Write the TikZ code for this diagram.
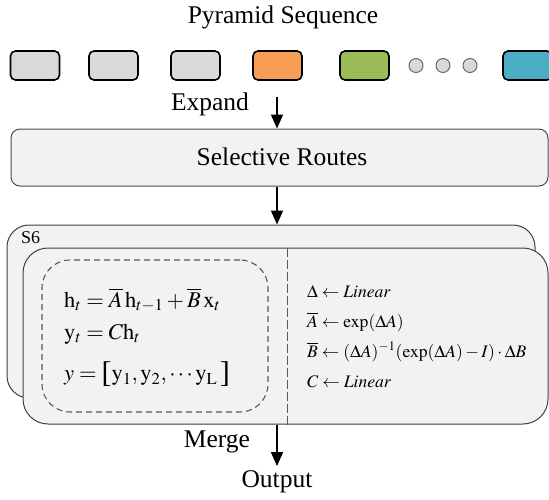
\documentclass[tikz,border=0pt]{standalone}
\usepackage{mathptmx}
\usepackage[no-math]{fontspec}
\setmainfont{Liberation Serif}
\usetikzlibrary{arrows.meta}
\definecolor{seqgray}{HTML}{D9D9D9}
\definecolor{seqorange}{HTML}{F79D55}
\definecolor{seqgreen}{HTML}{9BBB59}
\definecolor{seqblue}{HTML}{4BACC6}
\definecolor{panel}{HTML}{F2F2F2}
\newcommand{\bigbrk}[1]{\mbox{\fontsize{30}{30}\selectfont\raisebox{-1.5pt}{#1}}}
\begin{document}
\begin{tikzpicture}[x=1pt,y=-1pt,
  seqbox/.style={draw=black, line width=1.6pt, rounded corners=5pt, minimum width=49pt, minimum height=29pt, inner sep=0pt},
  dotnode/.style={circle, draw=gray!75!black, fill=seqgray, line width=0.9pt, minimum size=14pt, inner sep=0pt},
  flow/.style={-{Triangle[length=14pt,width=12pt]}, line width=1.5pt},
  lbl/.style={font=\fontsize{25.5}{30}\selectfont, inner sep=0pt},
  panelbox/.style={draw=black!75, fill=panel, line width=1pt, inner sep=0pt},
  eqL/.style={anchor=west, inner sep=0pt, font=\fontsize{22.5}{27}\selectfont},
  eqR/.style={anchor=west, inner sep=0pt, font=\fontsize{17.6}{21}\selectfont}]
\useasboundingbox (0,0) rectangle (549,499);

% title and sequence
\node[lbl] (title) at (283,17) {Pyramid Sequence};
\node[seqbox, fill=seqgray] (b1) at (35,65.5) {};
\node[seqbox, fill=seqgray] (b2) at (113.5,65.5) {};
\node[seqbox, fill=seqgray] (b3) at (195.5,65.5) {};
\node[seqbox, fill=seqorange] (b4) at (277.5,65.5) {};
\node[seqbox, fill=seqgreen] (b5) at (364.5,65.5) {};
\node[dotnode] (d1) at (416,65.5) {};
\node[dotnode] (d2) at (443,65.5) {};
\node[dotnode] (d3) at (470,65.5) {};
\node[seqbox, fill=seqblue] (b6) at (527.5,65.5) {};

% expand
\node[lbl] (expand) at (210,104) {Expand};
\coordinate (expstart) at (277,97);
\node[panelbox, draw=black!70, rounded corners=9pt, minimum width=537pt, minimum height=57pt] (sel) at (279.5,157.5) {};
\node[lbl] (seltext) at (282,157) {Selective Routes};
\draw[flow] (expstart) -- (sel.north -| expstart);

% S6 panels
\node[panelbox, rounded corners=22pt, minimum width=528pt, minimum height=173pt] (back) at (271,311.5) {};
\node[anchor=base west, inner sep=0pt, font=\fontsize{18}{20}\selectfont] (s6) at (21,243) {S6};
\node[panelbox, rounded corners=25pt, minimum width=525pt, minimum height=176pt] (front) at (285.5,336) {};
\draw[flow] (sel.south -| expstart) -- (back.north -| expstart);

\coordinate (sepx) at (287,0);
\draw[gray!70!black, line width=1pt, dash pattern=on 9pt off 3pt] (front.north -| sepx) -- (front.south -| sepx);
\node[draw=black!65, dash pattern=on 6pt off 4pt, line width=1.1pt, rounded corners=28pt, minimum width=226pt, minimum height=152pt, inner sep=0pt] (inner) at (155,336) {};

\node[eqL] (e1) at (64,300) {$\mathrm{h}_t=\overline{A}\,\mathrm{h}_{t-1}+\overline{B}\,\mathrm{x}_t$};
\node[eqL] (e2) at (64,334) {$\mathrm{y}_t=C\mathrm{h}_t$};
\node[eqL] (e3) at (64,374) {$y=\bigbrk{[}\mathrm{y}_1,\mathrm{y}_2,\cdots\mathrm{y}_{\mathrm{L}}\,\bigbrk{]}$};

\node[eqR] (r1) at (307,292) {$\Delta\leftarrow \mathit{Linear}$};
\node[eqR] (r2) at (307,322) {$\overline{A}\leftarrow\exp(\Delta A)$};
\node[eqR] (r3) at (307,352) {$\overline{B}\leftarrow(\Delta A)^{-1}(\exp(\Delta A)-I)\cdot\Delta B$};
\node[eqR] (r4) at (307,382) {$C\leftarrow \mathit{Linear}$};

% merge and output
\coordinate (mergeend) at (277,466);
\draw[flow] (front.south -| mergeend) -- (mergeend);
\node[lbl] (merge) at (217,442) {Merge};
\node[lbl] (output) at (277,482) {Output};
\end{tikzpicture}
\end{document}
